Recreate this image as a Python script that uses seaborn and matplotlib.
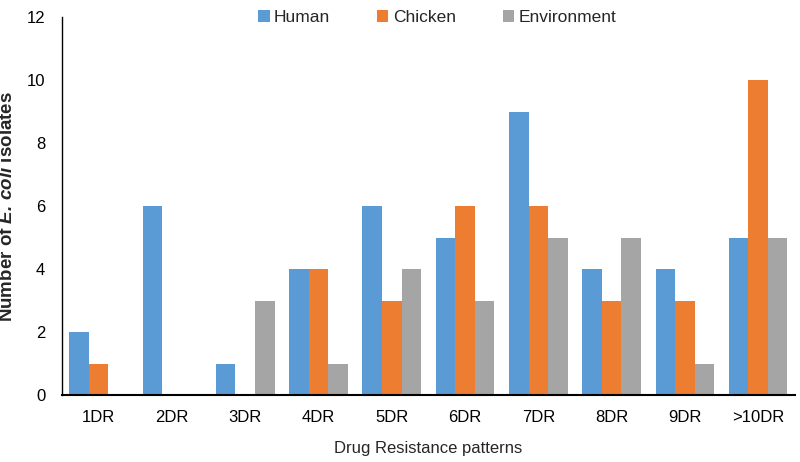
import matplotlib
matplotlib.use("Agg")
import matplotlib.pyplot as plt
import seaborn as sns
import pandas as pd

categories = ["1DR", "2DR", "3DR", "4DR", "5DR", "6DR", "7DR", "8DR", "9DR", ">10DR"]
human = [2, 6, 1, 4, 6, 5, 9, 4, 4, 5]
chicken = [1, 0, 0, 4, 3, 6, 6, 3, 3, 10]
environment = [0, 0, 3, 1, 4, 3, 5, 5, 1, 5]
series_names = ["Human", "Chicken", "Environment"]
colors = ["#5B9BD5", "#ED7D31", "#A5A5A5"]

sns.set_theme(style="white")
plt.rcParams["font.family"] = ["Liberation Sans", "DejaVu Sans"]
plt.rcParams["mathtext.fontset"] = "custom"
plt.rcParams["mathtext.rm"] = "Liberation Sans"
plt.rcParams["mathtext.it"] = "Liberation Sans:italic"
plt.rcParams["mathtext.bf"] = "Liberation Sans:bold"
plt.rcParams["mathtext.bfit"] = "Liberation Sans:bold:italic"

rows = []
for name, vals in zip(series_names, [human, chicken, environment]):
    for c, v in zip(categories, vals):
        rows.append({"Pattern": c, "Source": name, "Count": v})
df = pd.DataFrame(rows)

fig = plt.figure(figsize=(8, 4.62), dpi=100)
ax = fig.add_axes([0.0775, 0.145, 0.916, 0.818])
sns.barplot(data=df, x="Pattern", y="Count", hue="Source", order=categories,
            hue_order=series_names, palette=colors, width=0.8, saturation=1,
            linewidth=0, ax=ax)

ax.set_ylim(0, 12)
ax.set_yticks(range(0, 13, 2))
ax.set_xlim(-0.5, len(categories) - 0.5)
ax.tick_params(axis="both", length=0, labelsize=12, colors="black")
ax.tick_params(axis="y", pad=12)
ax.tick_params(axis="x", pad=11)
for s in ["top", "right"]:
    ax.spines[s].set_visible(False)
ax.spines["left"].set_color("black")
ax.spines["bottom"].set_color("black")
ax.spines["left"].set_linewidth(1.0)
ax.spines["bottom"].set_linewidth(1.5)

ax.set_xlabel("Drug Resistance patterns", fontsize=12, labelpad=11)
ax.set_ylabel(r"Number of $\mathbfit{E.\,coli}$ isolates", fontsize=13.5,
              fontweight="bold", labelpad=8)

leg = ax.legend(loc="upper center", bbox_to_anchor=(0.512, 1.06), ncol=3,
                frameon=False, fontsize=12.5, handlelength=0.65, handleheight=0.65,
                columnspacing=2.7, handletextpad=0.25, title=None)

fig.savefig("out.png", dpi=100)
